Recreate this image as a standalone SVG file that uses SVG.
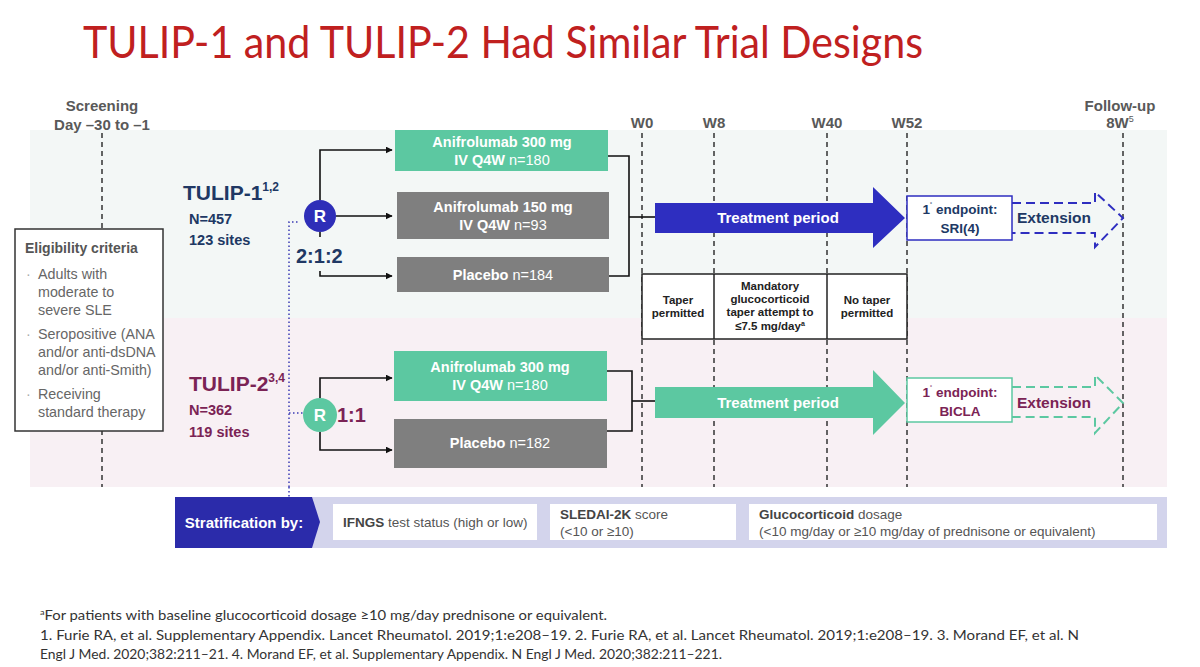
<svg xmlns="http://www.w3.org/2000/svg" width="1200" height="667" viewBox="0 0 1200 667">
<defs>
<marker id="ah" viewBox="0 0 10 10" refX="9" refY="5" markerWidth="7" markerHeight="7" markerUnits="userSpaceOnUse" orient="auto"><path d="M0,0 L10,5 L0,10 z" fill="#111"/></marker>
<style>
.t{font-family:"Liberation Sans",Arial,sans-serif}
.b{font-weight:bold}
.hdr{font-family:"Liberation Sans",Arial,sans-serif;font-weight:bold;font-size:15px;fill:#595959;text-anchor:middle}
.vd{stroke:#333;stroke-width:1.5;stroke-dasharray:5,4;fill:none}
.conn{stroke:#111;stroke-width:1.6;fill:none}
.bx{font-family:"Liberation Sans",Arial,sans-serif;font-size:14.5px;fill:#fff;text-anchor:middle}
.elig{font-family:"Liberation Sans",Arial,sans-serif;font-size:14.3px;fill:#666}
.tab{font-family:"Liberation Sans",Arial,sans-serif;font-weight:bold;font-size:11.5px;fill:#222;text-anchor:middle}
.fn{font-family:Lato,"Liberation Sans",sans-serif;font-size:13px;fill:#333}
.st{font-family:"Liberation Sans",Arial,sans-serif;font-size:13.5px;fill:#555}
</style>
</defs>
<rect width="1200" height="667" fill="#fff"/>
<!-- title -->
<text x="83" y="58" font-family="Lato,'Liberation Sans',sans-serif" font-size="44" fill="#c0201f" textLength="840" lengthAdjust="spacingAndGlyphs">TULIP-1 and TULIP-2 Had Similar Trial Designs</text>
<!-- bands -->
<rect x="30" y="130" width="1137" height="188" fill="#f3f7f6"/>
<rect x="30" y="318" width="1137" height="169" fill="#f8f0f4"/>
<!-- timeline headers -->
<g id="timeline">
<text class="hdr" x="102" y="111">Screening</text>
<text class="hdr" x="102" y="130">Day –30 to –1</text>
<text class="hdr" x="642" y="128">W0</text>
<text class="hdr" x="714" y="128">W8</text>
<text class="hdr" x="827" y="128">W40</text>
<text class="hdr" x="907" y="128">W52</text>
<text class="hdr" x="1120" y="111">Follow-up</text>
<text class="hdr" x="1120" y="128">8W<tspan font-size="9" dy="-6" font-weight="normal">5</tspan></text>
<line class="vd" x1="102" y1="133" x2="102" y2="487"/>
<line class="vd" x1="642" y1="133" x2="642" y2="487"/>
<line class="vd" x1="714" y1="133" x2="714" y2="487"/>
<line class="vd" x1="827" y1="133" x2="827" y2="487"/>
<line class="vd" x1="907" y1="133" x2="907" y2="487"/>
<line class="vd" x1="1123" y1="133" x2="1123" y2="487"/>
</g>
<!-- eligibility -->
<g id="eligibility">
<rect x="15" y="229" width="148" height="202" fill="#fff" stroke="#333" stroke-width="1.5"/>
<text class="t b" x="25" y="253" font-size="14" fill="#555">Eligibility criteria</text>
<g class="elig">
<text x="26" y="279" fill="#aaa">·</text>
<text x="38" y="279">Adults with</text>
<text x="38" y="297">moderate to</text>
<text x="38" y="315">severe SLE</text>
<text x="26" y="339" fill="#aaa">·</text>
<text x="38" y="339">Seropositive (ANA</text>
<text x="38" y="357">and/or anti-dsDNA</text>
<text x="38" y="375">and/or anti-Smith)</text>
<text x="26" y="399" fill="#aaa">·</text>
<text x="38" y="399">Receiving</text>
<text x="38" y="417">standard therapy</text>
</g>
</g>
<!-- connectors -->
<g id="connectors">
<path d="M289,487 V222 H298" stroke="#3b3bb5" stroke-width="1.5" stroke-dasharray="1.5,2.5" fill="none"/>
<path d="M289,413 H303" stroke="#3b3bb5" stroke-width="1.5" stroke-dasharray="1.5,2.5" fill="none"/>
<path d="M289,487 V497" stroke="#3b3bb5" stroke-width="1.5" stroke-dasharray="1.5,2.5" fill="none"/>
<path class="conn" d="M320,200 V150 H392" marker-end="url(#ah)"/>
<path class="conn" d="M336,216 H392" marker-end="url(#ah)"/>
<path class="conn" d="M320,232 V237"/>
<path class="conn" d="M320,271 V276 H392" marker-end="url(#ah)"/>
<path class="conn" d="M320,398 V378 H392" marker-end="url(#ah)"/>
<path class="conn" d="M320,432 V450 H392" marker-end="url(#ah)"/>
<path class="conn" d="M608,156 H629 V276 H609"/>
<path class="conn" d="M629,217 H655"/>
<path class="conn" d="M607,371 H632 V431 H607"/>
<path class="conn" d="M632,401 H655"/>
</g>
<!-- TULIP-1 -->
<g id="tulip1-label">
<text class="t b" x="183" y="200" font-size="21" fill="#203864">TULIP-1<tspan font-size="12" dy="-9">1,2</tspan></text>
<text class="t b" x="189" y="224" font-size="14.5" fill="#203864">N=457</text>
<text class="t b" x="189" y="245" font-size="14.5" fill="#203864">123 sites</text>
</g>
<g id="r1">
<circle cx="320" cy="216" r="16" fill="#2e2eb8"/>
<text class="t b" x="320" y="222" font-size="17" fill="#fff" text-anchor="middle">R</text>
<text class="t b" x="296" y="263" font-size="20" fill="#203864">2:1:2</text>
</g>
<g id="t1-a300">
<rect x="395" y="130" width="213" height="41" fill="#5cc8a1"/>
<text class="bx b" x="502" y="147">Anifrolumab 300 mg</text>
<text class="bx" x="502" y="165"><tspan font-weight="bold">IV Q4W</tspan> n=180</text>
</g>
<g id="t1-a150">
<rect x="397" y="192" width="212" height="47" fill="#7f7f7f"/>
<text class="bx b" x="503" y="212">Anifrolumab 150 mg</text>
<text class="bx" x="503" y="230"><tspan font-weight="bold">IV Q4W</tspan> n=93</text>
</g>
<g id="t1-pbo">
<rect x="397" y="257" width="212" height="35" fill="#7f7f7f"/>
<text class="bx" x="503" y="280"><tspan font-weight="bold">Placebo</tspan> n=184</text>
</g>
<g id="t1-treat">
<path d="M655,203 H873 V187 L905,218 L873,248 V233 H655 Z" fill="#2e2ec0"/>
<text class="t b" x="778" y="223" font-size="15" fill="#fff" text-anchor="middle">Treatment period</text>
</g>
<g id="t1-end">
<rect x="907" y="196" width="105" height="44" fill="#fff" stroke="#2e2ec0" stroke-width="1.5"/>
<text class="t b" x="960" y="214" font-size="13.5" fill="#203864" text-anchor="middle">1<tspan font-size="7" dy="-6">˚</tspan><tspan dy="6"> endpoint:</tspan></text>
<text class="t b" x="960" y="233" font-size="13.5" fill="#203864" text-anchor="middle">SRI(4)</text>
</g>
<g id="t1-ext">
<path d="M1012,203 H1095 V192 L1123,218 L1095,247 V233 H1012" fill="none" stroke="#2e2ec0" stroke-width="2" stroke-dasharray="9,5"/>
<text class="t b" x="1054" y="223" font-size="15.5" fill="#203864" text-anchor="middle">Extension</text>
</g>
<!-- taper table -->
<g id="taper-table">
<rect x="642" y="274" width="265" height="65" fill="#fff" stroke="#222" stroke-width="1.5"/>
<line x1="714" y1="274" x2="714" y2="339" stroke="#222" stroke-width="1.5"/>
<line x1="827" y1="274" x2="827" y2="339" stroke="#222" stroke-width="1.5"/>
<text class="tab" x="678" y="304">Taper</text>
<text class="tab" x="678" y="317">permitted</text>
<text class="tab" x="770" y="290">Mandatory</text>
<text class="tab" x="770" y="303">glucocorticoid</text>
<text class="tab" x="770" y="316">taper attempt to</text>
<text class="tab" x="770" y="330">≤7.5 mg/day<tspan font-size="7" dy="-4">a</tspan></text>
<text class="tab" x="867" y="304">No taper</text>
<text class="tab" x="867" y="317">permitted</text>
</g>
<!-- TULIP-2 -->
<g id="tulip2-label">
<text class="t b" x="189" y="391" font-size="21" fill="#7b2355">TULIP-2<tspan font-size="12" dy="-9">3,4</tspan></text>
<text class="t b" x="189" y="415" font-size="14.5" fill="#7b2355">N=362</text>
<text class="t b" x="189" y="437" font-size="14.5" fill="#7b2355">119 sites</text>
</g>
<g id="r2">
<circle cx="320" cy="415" r="17" fill="#5cc8a1"/>
<text class="t b" x="320" y="421" font-size="17" fill="#fff" text-anchor="middle">R</text>
<text class="t b" x="337" y="422" font-size="20" fill="#7b2355">1:1</text>
</g>
<g id="t2-a300">
<rect x="394" y="351" width="213" height="50" fill="#5cc8a1"/>
<text class="bx b" x="500" y="372">Anifrolumab 300 mg</text>
<text class="bx" x="500" y="390"><tspan font-weight="bold">IV Q4W</tspan> n=180</text>
</g>
<g id="t2-pbo">
<rect x="394" y="419" width="213" height="49" fill="#7f7f7f"/>
<text class="bx" x="500" y="448"><tspan font-weight="bold">Placebo</tspan> n=182</text>
</g>
<g id="t2-treat">
<path d="M655,387 H873 V370 L905,403 L873,435 V418 H655 Z" fill="#5cc8a1"/>
<text class="t b" x="778" y="408" font-size="15" fill="#fff" text-anchor="middle">Treatment period</text>
</g>
<g id="t2-end">
<rect x="907" y="378" width="105" height="44" fill="#fff" stroke="#5cc8a1" stroke-width="1.5"/>
<text class="t b" x="960" y="397" font-size="13.5" fill="#7b2355" text-anchor="middle">1<tspan font-size="7" dy="-6">˚</tspan><tspan dy="6"> endpoint:</tspan></text>
<text class="t b" x="960" y="416" font-size="13.5" fill="#7b2355" text-anchor="middle">BICLA</text>
</g>
<g id="t2-ext">
<path d="M1012,387 H1095 V375 L1123,403 L1095,433 V417 H1012" fill="none" stroke="#5cc8a1" stroke-width="2" stroke-dasharray="9,5"/>
<text class="t b" x="1054" y="408" font-size="15.5" fill="#7b2355" text-anchor="middle">Extension</text>
</g>
<!-- stratification -->
<g id="stratification">
<rect x="175" y="497" width="992" height="51" fill="#d3d4ec"/>
<path d="M175,497 H312 L320,522 L312,548 H175 Z" fill="#2b2baa"/>
<text class="t b" x="244" y="528" font-size="15" fill="#fff" text-anchor="middle">Stratification by:</text>
<rect x="333" y="504" width="204" height="36" fill="#fff"/>
<text class="st" x="343" y="527"><tspan font-weight="bold" fill="#444">IFNGS</tspan> test status (high or low)</text>
<rect x="550" y="504" width="186" height="36" fill="#fff"/>
<text class="st" x="560" y="519"><tspan font-weight="bold" fill="#444">SLEDAI-2K</tspan> score</text>
<text class="st" x="560" y="536">(&lt;10 or ≥10)</text>
<rect x="749" y="504" width="408" height="36" fill="#fff"/>
<text class="st" x="759" y="519"><tspan font-weight="bold" fill="#444">Glucocorticoid</tspan> dosage</text>
<text class="st" x="759" y="536">(&lt;10 mg/day or ≥10 mg/day of prednisone or equivalent)</text>
</g>
<!-- footnotes -->
<g id="footnotes">
<text class="fn" x="40" y="620" textLength="567" lengthAdjust="spacingAndGlyphs"><tspan font-size="8" dy="-5">a</tspan><tspan dy="5">For patients with baseline glucocorticoid dosage ≥10 mg/day prednisone or equivalent.</tspan></text>
<text class="fn" x="40" y="640" textLength="1039" lengthAdjust="spacingAndGlyphs">1. Furie RA, et al. Supplementary Appendix. Lancet Rheumatol. 2019;1:e208–19. 2. Furie RA, et al. Lancet Rheumatol. 2019;1:e208–19. 3. Morand EF, et al. N</text>
<text class="fn" x="40" y="659" textLength="682" lengthAdjust="spacingAndGlyphs">Engl J Med. 2020;382:211–21. 4. Morand EF, et al. Supplementary Appendix. N Engl J Med. 2020;382:211–221.</text>
</g>
</svg>
